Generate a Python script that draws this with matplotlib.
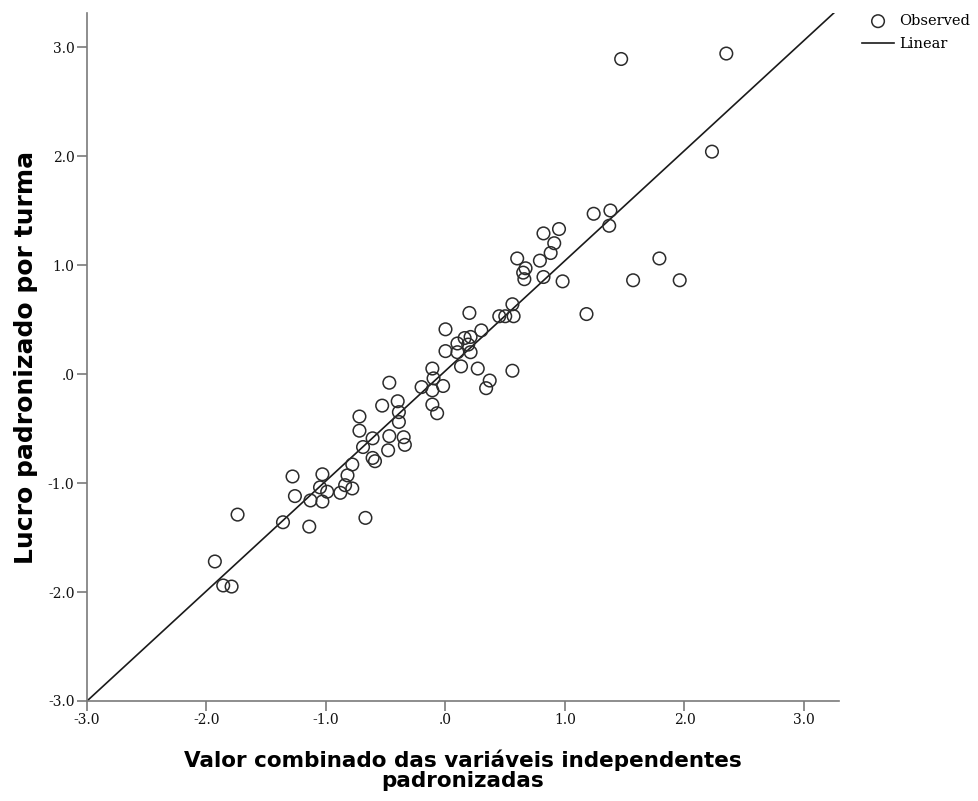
import matplotlib
matplotlib.use("Agg")
import matplotlib.pyplot as plt
import numpy as np

# Observed points (x = combined standardized predictors, y = standardized profit)
x_obs = [-1.93, -1.86, -1.79, -1.74, -1.36, -1.14, -0.67,
         -1.28, -1.26, -1.13, -1.03, -1.03, -1.05, -0.99, -0.88, -0.84, -0.82, -0.78, -0.78, -0.61, -0.59,
         -0.69, -0.72, -0.72, -0.61, -0.47, -0.35, -0.34, -0.48,
         -0.53, -0.40, -0.39, -0.39,
         -0.47, -0.20, -0.02, -0.11, -0.11, -0.10, -0.11, -0.07,
         0.00, 0.10, 0.21, 0.10, 0.16, 0.21, 0.19,
         0.13, 0.27, 0.56, 0.37, 0.34,
         0.00, 0.30, 0.20,
         0.45, 0.50, 0.56, 0.57,
         1.18, 0.60, 0.79, 0.67, 0.65, 0.66, 0.82, 0.98,
         0.82, 0.95, 0.91, 0.88,
         1.24, 1.38, 1.37,
         1.47, 2.35, 2.23,
         1.79, 1.57, 1.96]
y_obs = [-1.72, -1.94, -1.95, -1.29, -1.36, -1.40, -1.32,
         -0.94, -1.12, -1.16, -1.17, -0.92, -1.04, -1.08, -1.09, -1.02, -0.93, -0.83, -1.05, -0.77, -0.80,
         -0.67, -0.39, -0.52, -0.59, -0.57, -0.58, -0.65, -0.70,
         -0.29, -0.25, -0.35, -0.44,
         -0.08, -0.12, -0.11, -0.15, 0.05, -0.04, -0.28, -0.36,
         0.21, 0.20, 0.20, 0.28, 0.33, 0.34, 0.27,
         0.07, 0.05, 0.03, -0.06, -0.13,
         0.41, 0.40, 0.56,
         0.53, 0.53, 0.64, 0.53,
         0.55, 1.06, 1.04, 0.97, 0.93, 0.87, 0.89, 0.85,
         1.29, 1.33, 1.20, 1.11,
         1.47, 1.50, 1.36,
         2.89, 2.94, 2.04,
         1.06, 0.86, 0.86]

# Linear fit line coefficients
fit_slope = 1.01
fit_intercept = 0.03

tick_values = [-3.0, -2.0, -1.0, 0.0, 1.0, 2.0, 3.0]
tick_labels = ["-3.0", "-2.0", "-1.0", ".0", "1.0", "2.0", "3.0"]

x_limits = (-3.0, 3.293)
y_limits = (-3.0, 3.312)

fig = plt.figure(figsize=(9.79, 8.01), dpi=100)
ax = fig.add_axes([87/979, 1 - 701/801, (839 - 87)/979, (701 - 13)/801])

ax.scatter(x_obs, y_obs, s=82, facecolors="none", edgecolors="#2b2b2b",
           linewidths=1.1, zorder=3, label="Observed")

xl = np.array(x_limits)
ax.plot(xl, fit_intercept + fit_slope * xl, color="#1a1a1a", linewidth=1.2,
        zorder=2, label="Linear")

ax.set_xlim(*x_limits)
ax.set_ylim(*y_limits)
ax.set_xticks(tick_values)
ax.set_xticklabels(tick_labels)
ax.set_yticks(tick_values)
ax.set_yticklabels(tick_labels)

for s in ["top", "right"]:
    ax.spines[s].set_visible(False)
for s in ["left", "bottom"]:
    ax.spines[s].set_color("#7a7a7a")
    ax.spines[s].set_linewidth(1.2)
ax.tick_params(axis="both", direction="out", length=7, width=1.2,
               color="#7a7a7a", labelsize=10, labelcolor="#111111", pad=2)
for lab in ax.get_xticklabels() + ax.get_yticklabels():
    lab.set_family("DejaVu Serif")

ax.set_xlabel("Valor combinado das variáveis independentes\npadronizadas",
              fontsize=15.5, fontweight="bold", family="DejaVu Sans",
              linespacing=1.0, labelpad=16)
ax.set_ylabel("Lucro padronizado por turma", fontsize=18, fontweight="bold",
              family="DejaVu Sans", labelpad=7)

leg = ax.legend(loc="upper left", bbox_to_anchor=((862 - 87) / 752, (701 - 14) / 688),
                frameon=False, prop={"family": "DejaVu Serif", "size": 10.5},
                handlelength=2.2, handletextpad=0.35, borderaxespad=0.0,
                borderpad=0.0, labelspacing=0.6)

fig.savefig("out.png", dpi=100)
